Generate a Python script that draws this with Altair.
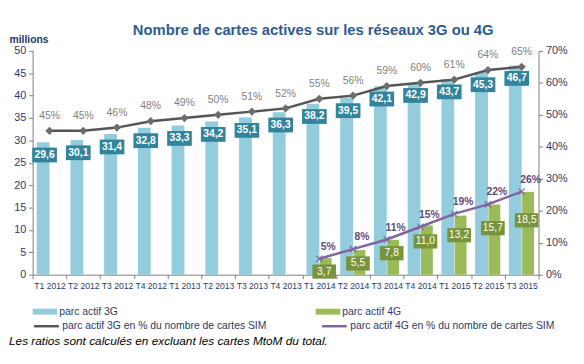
import altair as alt
import pandas as pd

quarters = ["T1 2012", "T2 2012", "T3 2012", "T4 2012", "T1 2013", "T2 2013", "T3 2013",
            "T4 2013", "T1 2014", "T2 2014", "T3 2014", "T4 2014", "T1 2015", "T2 2015", "T3 2015"]
parc_3g = [29.6, 30.1, 31.4, 32.8, 33.3, 34.2, 35.1, 36.3, 38.2, 39.5, 42.1, 42.9, 43.7, 45.3, 46.7]
pct_3g = [45, 45, 46, 48, 49, 50, 51, 52, 55, 56, 59, 60, 61, 64, 65]
quarters_4g = ["T1 2014", "T2 2014", "T3 2014", "T4 2014", "T1 2015", "T2 2015", "T3 2015"]
parc_4g = [3.7, 5.5, 7.8, 11.0, 13.2, 15.7, 18.5]
pct_4g = [5, 8, 11, 15, 19, 22, 26]

S3 = "parc actif 3G"
S4 = "parc actif 4G"
L3 = "parc actif 3G en % du nombre de cartes SIM"
L4 = "parc actif 4G en % du nombre de cartes SIM"
TITLE = "Nombre de cartes actives sur les réseaux 3G ou 4G"
NOTE = "Les ratios sont calculés en excluant les cartes MtoM du total."


def fr(v):
    return f"{v:.1f}".replace(".", ",")


df3 = pd.DataFrame({"q": quarters, "v": parc_3g, "p": pct_3g, "s": S3, "l": L3,
                    "vl": [fr(v) for v in parc_3g], "pl": [f"{p}%" for p in pct_3g]})
df4 = pd.DataFrame({"q": quarters_4g, "v": parc_4g, "p": pct_4g, "s": S4, "l": L4,
                    "vl": [fr(v) for v in parc_4g], "pl": [f"{p}%" for p in pct_4g]})
dfall = pd.concat([df3, df4], ignore_index=True)

NAVY = "#2B3A67"
AXC = "#7F7F7F"
BOX = "M-1,-0.6L1,-0.6L1,0.6L-1,0.6Z"

x_enc = alt.X("q:N", sort=quarters,
              scale=alt.Scale(domain=quarters, paddingInner=0, paddingOuter=0),
              axis=alt.Axis(title=None, labelAngle=0, labelFontSize=8.7, labelColor=NAVY,
                            labelFont="Liberation Sans", tickBand="extent", tickSize=4,
                            tickColor=AXC, domainColor=AXC, labelPadding=3))

yL_scale = alt.Scale(domain=[0, 50], nice=False)
yL_axis = alt.Axis(title="millions", titleAngle=0, titleAlign="left", titleBaseline="bottom",
                   titleX=-24, titleY=-6, titleFontSize=10.5, titleFontWeight="bold",
                   titleColor="#1F3864", titleFont="Liberation Sans",
                   values=list(range(0, 51, 5)), grid=False, tickSize=4, tickColor=AXC,
                   domainColor=AXC, labelFontSize=11, labelColor=NAVY,
                   labelFont="Liberation Sans", labelPadding=3)


def yl(field):
    return alt.Y(field, scale=yL_scale, axis=yL_axis)


color_enc = alt.Color("s:N", scale=alt.Scale(domain=[S3, S4], range=["#93CDDD", "#9BBB59"]),
                      legend=alt.Legend(title=None, orient="none", legendX=0, legendY=252,
                                        direction="horizontal", columns=2, columnPadding=200,
                                        symbolType="M-1,-0.24L1,-0.24L1,0.24L-1,0.24Z",
                                        symbolSize=625, symbolStrokeWidth=0, labelOffset=2,
                                        labelFontSize=10.5, labelColor=NAVY,
                                        labelFont="Liberation Sans", labelLimit=400))

bars3 = alt.Chart(df3).mark_bar(width=13, xOffset=-6.5).encode(x=x_enc, y=yl("v:Q"), color=color_enc)
bars4 = alt.Chart(df4).mark_bar(width=12, xOffset=6.5).encode(x=x_enc, y=yl("v:Q"), color=color_enc)

box3 = alt.Chart(df3).mark_point(shape=BOX, size=625, filled=True, opacity=1, color="#31849B",
                                 xOffset=-5, yOffset=13).encode(x=x_enc, y=yl("v:Q"))
txt3 = alt.Chart(df3).mark_text(color="white", fontWeight="bold", fontSize=10.5,
                                font="Liberation Sans", dx=-5, dy=13).encode(
    x=x_enc, y=yl("v:Q"), text="vl:N")

box4 = alt.Chart(df4).transform_calculate(
    ly="min(datum.v - 3, datum.v * 0.63 + 0.5)"
).mark_point(shape=BOX, size=576, filled=True, opacity=1, color="#77933C",
             xOffset=5).encode(x=x_enc, y=yl("ly:Q"))
txt4 = alt.Chart(df4).transform_calculate(
    ly="min(datum.v - 3, datum.v * 0.63 + 0.5)"
).mark_text(color="white", fontSize=10.5, font="Liberation Sans", dx=5).encode(
    x=x_enc, y=yl("ly:Q"), text="vl:N")

note = alt.Chart(pd.DataFrame({"t": [NOTE]})).mark_text(
    align="left", baseline="middle", fontStyle="italic", fontSize=12, color="black",
    font="Liberation Sans").encode(x=alt.value(-24), y=alt.value(294), text="t:N")

left = alt.layer(bars3, bars4, box3, txt3, box4, txt4, note)

yR_scale = alt.Scale(domain=[0, 70], nice=False)
yR_axis = alt.Axis(title=None, orient="right", values=list(range(0, 71, 10)),
                   labelExpr="datum.value + '%'", grid=False, tickSize=4, tickColor=AXC,
                   domainColor=AXC, labelFontSize=11, labelColor=NAVY,
                   labelFont="Liberation Sans", labelPadding=3)


def yr(field):
    return alt.Y(field, scale=yR_scale, axis=yR_axis)


stroke_enc = alt.Stroke("l:N", scale=alt.Scale(domain=[L3, L4], range=["#555555", "#8064A2"]),
                        legend=alt.Legend(title=None, orient="none", legendX=0, legendY=265,
                                          direction="horizontal", columns=2, columnPadding=50,
                                          symbolType="M-1,0L1,0", symbolSize=625,
                                          symbolStrokeWidth=2.5, labelOffset=2,
                                          labelFontSize=10.5, labelColor=NAVY,
                                          labelFont="Liberation Sans", labelLimit=400))

lines = alt.Chart(dfall).mark_line(strokeWidth=2.5).encode(x=x_enc, y=yr("p:Q"), stroke=stroke_enc)
pts3 = alt.Chart(df3).mark_point(shape="diamond", filled=True, opacity=1, color="#6D6D6D",
                                 size=70).encode(x=x_enc, y=yr("p:Q"))
pts4 = alt.Chart(df4).mark_point(shape="M-1,-1L1,1M1,-1L-1,1", filled=False, opacity=1,
                                 color="#8064A2", size=40, strokeWidth=1.2).encode(
    x=x_enc, y=yr("p:Q"))
ptxt3 = alt.Chart(df3).mark_text(color="#808080", fontSize=10.5, font="Liberation Sans",
                                 dy=-15).encode(x=x_enc, y=yr("p:Q"), text="pl:N")
ptxt4 = alt.Chart(df4).mark_text(color="#604A7B", fontSize=10.5, fontWeight="bold",
                                 font="Liberation Sans", dx=9, dy=-12).encode(
    x=x_enc, y=yr("p:Q"), text="pl:N")

right = alt.layer(lines, pts3, pts4, ptxt3, ptxt4)

chart = alt.layer(left, right).resolve_scale(y="independent").properties(
    width=513, height=227,
    padding={"left": 25, "top": 41, "right": 38, "bottom": 80},
    autosize=alt.AutoSizeParams(type="none"),
    title=alt.TitleParams(TITLE, fontSize=15, fontWeight="bold", color="#2E5B8F",
                          font="Liberation Sans", anchor="middle", dx=28, dy=4, offset=1),
).configure_view(stroke=None)

chart.save("out.html", embed_options={"renderer": "svg", "actions": False})
